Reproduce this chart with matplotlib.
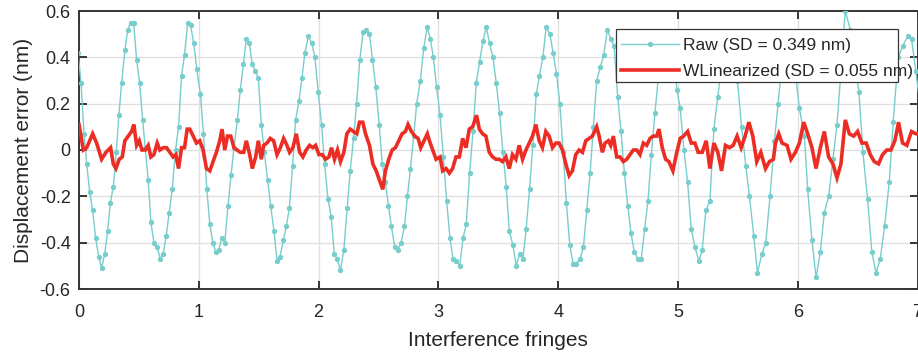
import matplotlib
matplotlib.use("Agg")
import matplotlib.pyplot as plt
from matplotlib.patches import Rectangle

plt.rcParams['font.family'] = ['Liberation Sans', 'DejaVu Sans']

# ---------------- data ----------------
raw_x = [-0.008, 0.017, 0.042, 0.064, 0.089, 0.114, 0.139, 0.164, 0.189, 0.214, 0.239, 0.261, 0.286, 0.311,
         0.333, 0.356, 0.383, 0.408, 0.431, 0.456, 0.481, 0.506, 0.531, 0.553, 0.578, 0.600, 0.625, 0.653,
         0.678, 0.703, 0.728, 0.753, 0.778, 0.806, 0.831, 0.856, 0.881, 0.908, 0.931, 0.958, 0.983,
         1.014, 1.039, 1.067, 1.092, 1.117, 1.142, 1.167, 1.192, 1.217, 1.244, 1.269, 1.294, 1.322, 1.347,
         1.372, 1.397, 1.422, 1.447, 1.472, 1.497, 1.522, 1.547, 1.575, 1.600, 1.628, 1.653, 1.678, 1.706,
         1.731, 1.756, 1.783, 1.808, 1.836, 1.861, 1.886, 1.914, 1.944, 1.969, 1.997,
         2.025, 2.050, 2.078, 2.106, 2.131, 2.156, 2.183, 2.211, 2.239, 2.264, 2.292, 2.317, 2.344, 2.372,
         2.397, 2.425, 2.450, 2.478, 2.506, 2.531, 2.558, 2.583, 2.608, 2.636, 2.661, 2.689, 2.717, 2.742,
         2.767, 2.794, 2.819, 2.850, 2.878, 2.906, 2.933, 2.958, 2.986,
         3.014, 3.042, 3.069, 3.097, 3.122, 3.150, 3.178, 3.206, 3.233, 3.261, 3.289, 3.317, 3.344, 3.372,
         3.400, 3.428, 3.456, 3.483, 3.511, 3.539, 3.567, 3.592, 3.622, 3.650, 3.678, 3.706, 3.733, 3.761,
         3.789, 3.817, 3.844, 3.872, 3.900, 3.931, 3.958, 3.986,
         4.014, 4.042, 4.069, 4.097, 4.125, 4.153, 4.183, 4.211, 4.239, 4.267, 4.294, 4.322, 4.353, 4.381,
         4.411, 4.439, 4.467, 4.497, 4.525, 4.553, 4.581, 4.608, 4.636, 4.664, 4.694, 4.722, 4.750, 4.778,
         4.808, 4.836, 4.864, 4.892, 4.920, 4.948, 4.970, 4.992,
         5.019, 5.050, 5.081, 5.111, 5.142, 5.175, 5.203, 5.233, 5.267, 5.300, 5.333, 5.365, 5.397, 5.430,
         5.462, 5.497, 5.531, 5.567, 5.597, 5.633, 5.664, 5.700, 5.733, 5.769, 5.806, 5.836, 5.866, 5.896,
         5.926, 5.956, 5.985,
         6.014, 6.056, 6.083, 6.119, 6.153, 6.189, 6.222, 6.258, 6.294, 6.328, 6.361, 6.397, 6.439, 6.475,
         6.511, 6.544, 6.583, 6.619, 6.653, 6.689, 6.725, 6.764, 6.797, 6.839, 6.878, 6.917, 6.950, 6.986,
         7.020]
raw_y = [0.42, 0.29, 0.07, -0.06, -0.18, -0.26, -0.38, -0.46, -0.51, -0.45, -0.35, -0.23, -0.16, -0.01,
         0.15, 0.29, 0.43, 0.52, 0.55, 0.55, 0.39, 0.29, 0.13, 0.01, -0.13, -0.31, -0.40, -0.42,
         -0.47, -0.45, -0.37, -0.27, -0.17, 0.00, 0.10, 0.32, 0.41, 0.55, 0.54, 0.46, 0.35,
         0.24, 0.07, -0.17, -0.32, -0.40, -0.44, -0.43, -0.38, -0.40, -0.24, -0.11, 0.01, 0.13, 0.26,
         0.37, 0.48, 0.46, 0.37, 0.34, 0.31, 0.11, -0.01, -0.13, -0.24, -0.35, -0.48, -0.46, -0.39,
         -0.33, -0.25, -0.07, 0.13, 0.21, 0.31, 0.42, 0.49, 0.46, 0.40, 0.25,
         0.11, -0.06, -0.21, -0.29, -0.45, -0.47, -0.52, -0.43, -0.25, -0.09, 0.05, 0.20, 0.39, 0.51,
         0.52, 0.50, 0.39, 0.27, 0.11, -0.06, -0.14, -0.24, -0.33, -0.42, -0.43, -0.40, -0.33, -0.20,
         -0.08, 0.06, 0.20, 0.30, 0.44, 0.53, 0.48, 0.40, 0.27,
         0.15, -0.03, -0.22, -0.38, -0.47, -0.48, -0.50, -0.38, -0.32, -0.10, 0.08, 0.29, 0.38, 0.47,
         0.53, 0.46, 0.40, 0.29, 0.16, -0.01, -0.16, -0.35, -0.41, -0.50, -0.45, -0.47, -0.34, -0.17,
         0.02, 0.24, 0.32, 0.40, 0.53, 0.50, 0.42, 0.33,
         0.20, -0.01, -0.23, -0.41, -0.49, -0.49, -0.47, -0.42, -0.26, -0.10, 0.10, 0.30, 0.36, 0.41,
         0.52, 0.48, 0.45, 0.23, 0.08, -0.10, -0.24, -0.36, -0.44, -0.47, -0.47, -0.34, -0.22, -0.02,
         0.16, 0.31, 0.43, 0.50, 0.50, 0.45, 0.36, 0.26,
         0.18, 0.00, -0.14, -0.34, -0.42, -0.48, -0.43, -0.26, -0.22, 0.09, 0.23, 0.37, 0.46, 0.49,
         0.44, 0.30, 0.10, -0.07, -0.20, -0.37, -0.53, -0.45, -0.40, -0.20, 0.04, 0.20, 0.36, 0.45,
         0.48, 0.44, 0.31,
         0.18, 0.06, -0.17, -0.39, -0.55, -0.44, -0.27, -0.20, -0.04, 0.11, 0.34, 0.60, 0.52, 0.40,
         0.25, -0.01, -0.21, -0.44, -0.53, -0.47, -0.33, -0.14, 0.12, 0.40, 0.45, 0.49, 0.48, 0.34,
         0.20]

lin_x = [0.000, 0.036, 0.064, 0.114, 0.147, 0.189, 0.225, 0.264, 0.286, 0.308, 0.336, 0.361, 0.383, 0.411,
         0.439, 0.458, 0.481, 0.503, 0.525, 0.553, 0.578, 0.600, 0.625, 0.653, 0.675, 0.703, 0.731, 0.758,
         0.786, 0.808, 0.831, 0.856, 0.881, 0.903, 0.925, 0.953, 0.981,
         1.008, 1.036, 1.064, 1.092, 1.119, 1.147, 1.175, 1.194, 1.217, 1.239, 1.267, 1.294, 1.319, 1.347,
         1.375, 1.397, 1.425, 1.447, 1.475, 1.497, 1.522, 1.542, 1.569, 1.597, 1.625, 1.653, 1.681, 1.708,
         1.736, 1.758, 1.786, 1.814, 1.842, 1.869, 1.897, 1.925, 1.953, 1.975,
         2.003, 2.031, 2.058, 2.086, 2.108, 2.133, 2.158, 2.183, 2.211, 2.236, 2.264, 2.292, 2.319, 2.342,
         2.369, 2.392, 2.425, 2.453, 2.481, 2.508, 2.536, 2.558, 2.586, 2.614, 2.642, 2.669, 2.697, 2.725,
         2.747, 2.775, 2.803, 2.831, 2.853, 2.881, 2.908, 2.925, 2.953, 2.981,
         3.014, 3.036, 3.064, 3.092, 3.119, 3.147, 3.175, 3.203, 3.231, 3.258, 3.286, 3.319, 3.342, 3.369,
         3.397, 3.425, 3.453, 3.481, 3.508, 3.536, 3.564, 3.592, 3.619, 3.647, 3.675, 3.703, 3.731, 3.758,
         3.786, 3.814, 3.842, 3.869, 3.897, 3.925, 3.953, 3.981,
         4.008, 4.036, 4.064, 4.092, 4.119, 4.147, 4.175, 4.203, 4.231, 4.258, 4.286, 4.322, 4.342, 4.369,
         4.392, 4.419, 4.439, 4.461, 4.489, 4.517, 4.544, 4.572, 4.600, 4.628, 4.656, 4.683, 4.711, 4.739,
         4.767, 4.794, 4.822, 4.842, 4.869, 4.897, 4.925, 4.958, 4.986,
         5.019, 5.047, 5.081, 5.111, 5.142, 5.169, 5.203, 5.236, 5.267, 5.300, 5.333, 5.364, 5.397, 5.431,
         5.461, 5.494, 5.528, 5.561, 5.592, 5.625, 5.658, 5.692, 5.731, 5.764, 5.797, 5.814, 5.842, 5.869,
         5.911, 5.944, 5.981,
         6.014, 6.050, 6.083, 6.119, 6.153, 6.189, 6.222, 6.258, 6.294, 6.328, 6.361, 6.397, 6.431, 6.467,
         6.500, 6.536, 6.572, 6.606, 6.639, 6.675, 6.708, 6.744, 6.778, 6.811, 6.842, 6.875, 6.911, 6.950,
         6.986, 7.010]
lin_y = [0.11, 0.00, 0.01, 0.07, 0.03, -0.04, -0.01, 0.01, -0.06, -0.08, -0.04, -0.03, 0.04, 0.06,
         0.08, 0.11, 0.02, 0.04, 0.00, 0.00, 0.02, -0.03, -0.02, 0.03, 0.00, 0.01, 0.01, -0.01,
         -0.03, -0.02, -0.08, 0.01, 0.01, 0.09, 0.09, 0.06, 0.03,
         0.04, 0.00, -0.08, -0.09, -0.05, -0.01, 0.04, 0.09, 0.00, 0.06, 0.06, 0.01, 0.00, -0.01,
         -0.01, 0.04, -0.02, -0.08, -0.03, 0.04, -0.04, 0.02, 0.03, 0.05, 0.04, -0.02, 0.01, 0.05,
         0.02, -0.01, 0.01, 0.07, -0.01, -0.03, 0.00, 0.02, 0.01, 0.02,
         -0.02, -0.02, -0.04, -0.03, 0.01, -0.04, 0.00, -0.05, -0.01, 0.07, 0.09, 0.08, 0.07, 0.12,
         0.12, 0.07, 0.02, -0.06, -0.09, -0.13, -0.17, -0.09, -0.04, 0.00, 0.01, 0.04, 0.07, 0.08,
         0.11, 0.08, 0.06, 0.05, 0.01, 0.04, 0.07, 0.04, 0.00, -0.04,
         -0.03, -0.09, -0.08, -0.10, -0.08, -0.03, -0.03, 0.05, 0.01, 0.09, 0.10, 0.15, 0.09, 0.07,
         0.06, -0.01, -0.03, -0.04, -0.04, -0.05, -0.03, -0.08, -0.02, -0.04, 0.02, -0.04, 0.00, 0.03,
         0.06, 0.11, 0.04, 0.01, 0.08, 0.06, 0.01, 0.03,
         0.03, 0.00, -0.06, -0.11, -0.09, -0.02, 0.00, -0.01, 0.04, 0.05, 0.06, 0.10, 0.06, -0.01,
         0.03, 0.04, 0.02, 0.06, -0.03, -0.03, -0.05, -0.04, -0.02, 0.00, 0.00, -0.02, 0.03, 0.02,
         0.05, 0.06, 0.06, 0.09, 0.01, -0.04, -0.05, -0.09, -0.02,
         0.05, 0.06, 0.08, 0.03, 0.03, -0.01, -0.01, 0.04, -0.08, 0.03, -0.01, -0.09, 0.02, 0.01,
         0.02, 0.06, 0.01, 0.06, 0.12, 0.06, -0.05, -0.01, -0.08, -0.05, -0.04, 0.03, 0.07, 0.03,
         0.02, -0.04, -0.01,
         0.03, 0.12, 0.07, 0.01, -0.08, 0.01, 0.08, -0.03, -0.06, -0.12, -0.06, 0.13, 0.07, 0.06,
         0.08, 0.03, 0.03, -0.02, -0.05, -0.06, -0.02, 0.00, 0.00, 0.04, 0.12, 0.03, 0.02, 0.08,
         0.07, 0.07]

raw_label = "Raw (SD = 0.349 nm)"
lin_label = "WLinearized (SD = 0.055 nm)"
x_ticks = [0, 1, 2, 3, 4, 5, 6, 7]
y_ticks = [-0.6, -0.4, -0.2, 0, 0.2, 0.4, 0.6]
y_tick_labels = ["-0.6", "-0.4", "-0.2", "0", "0.2", "0.4", "0.6"]
x_label = "Interference fringes"
y_label = "Displacement error (nm)"

# ---------------- styling ----------------
TXT = '#262626'
FRAME = '#363636'
TEAL = '#78cdcd'
RED = '#ec2d24'

W, H = 918, 352
AX_L, AX_R, AX_T, AX_B = 79, 917.5, 11, 289

fig = plt.figure(figsize=(W / 100, H / 100), dpi=100)
ax = fig.add_axes([AX_L / W, (H - AX_B) / H, (AX_R - AX_L) / W, (AX_B - AX_T) / H])

ax.plot(raw_x, raw_y, color=TEAL, lw=1.0, marker='o', ms=2.8, mec=TEAL, mfc=TEAL,
        label=raw_label, zorder=3)
ax.plot(lin_x, lin_y, color=RED, lw=2.6, label=lin_label, zorder=4,
        solid_joinstyle='miter')

ax.set_xlim(0, 7)
ax.set_ylim(-0.6, 0.6)
ax.set_xticks(x_ticks)
ax.set_xticklabels([str(t) for t in x_ticks])
ax.set_yticks(y_ticks)
ax.set_yticklabels(y_tick_labels)

ax.grid(True, color='#dfdfdf', lw=0.9, zorder=0)
ax.set_axisbelow(True)

for s in ax.spines.values():
    s.set_color(FRAME)
    s.set_linewidth(1.4)

ax.tick_params(axis='both', which='major', direction='in', length=6, width=1.4,
               color=FRAME, labelcolor=TXT, labelsize=13,
               top=True, right=True)
ax.tick_params(axis='x', pad=10.5)
ax.tick_params(axis='y', pad=6)

ax.set_xlabel(x_label, fontsize=15, color=TXT, labelpad=7.5)
ax.set_ylabel(y_label, fontsize=15, color=TXT, labelpad=5)


def ax_x(px):
    return (px - AX_L) / (AX_R - AX_L)


def ax_y(py):
    return (AX_B - py) / (AX_B - AX_T)


# legend box (MATLAB draws it narrower than the second entry's text)
LEG_L, LEG_R, LEG_T, LEG_B = 616, 898, 29, 82
box = Rectangle((ax_x(LEG_L), ax_y(LEG_B)), ax_x(LEG_R) - ax_x(LEG_L), ax_y(LEG_T) - ax_y(LEG_B),
                transform=ax.transAxes, facecolor='white', edgecolor=FRAME, lw=0.9,
                zorder=4.5, clip_on=False)
ax.add_patch(box)

leg = ax.legend(loc='upper left', bbox_to_anchor=(ax_x(LEG_L), ax_y(LEG_T + 4)),
                borderaxespad=0, fontsize=12.5, handlelength=3.3, handletextpad=0.25,
                borderpad=0.3, labelspacing=0.58, frameon=False, numpoints=1)
leg.set_zorder(6)
for t in leg.get_texts():
    t.set_color(TXT)

fig.savefig('out.png', dpi=100)
